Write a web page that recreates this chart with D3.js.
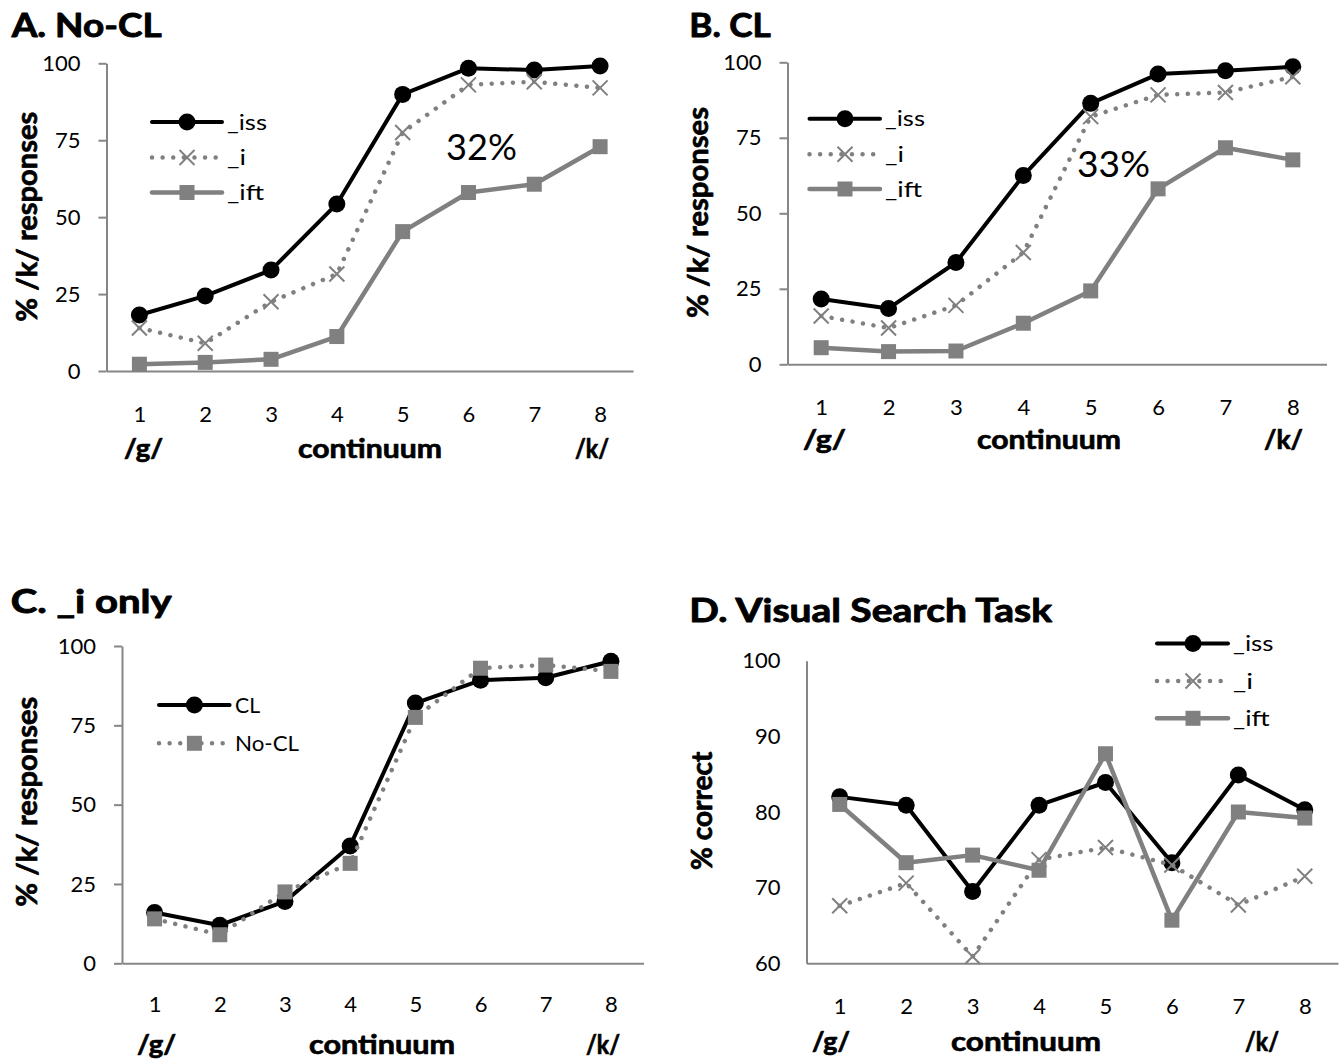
<!DOCTYPE html>
<html>
<head>
<meta charset="utf-8">
<script src="https://cdn.jsdelivr.net/npm/d3@7"></script>
<style>
  html, body { margin: 0; padding: 0; background: #fff; }
  svg { display: block; }
</style>
</head>
<body>
<svg id="chart" width="1344" height="1063"></svg>
<script>
// Steps along the /g/ – /k/ continuum
const steps = ["1", "2", "3", "4", "5", "6", "7", "8"];
const pctTicks = [0, 25, 50, 75, 100];
const correctTicks = [60, 70, 80, 90, 100];

// A. No-CL: % /k/ responses
const noCL_iss = [18.2, 24.4, 32.8, 54.3, 89.9, 98.4, 97.8, 99.1];
const noCL_i   = [14.0, 9.0, 22.5, 31.5, 77.5, 93.0, 94.0, 92.0];
const noCL_ift = [2.2, 2.8, 3.8, 11.2, 45.3, 58.0, 60.7, 72.9];

// B. CL: % /k/ responses
const cl_iss = [21.6, 18.5, 33.7, 62.5, 86.4, 96.1, 97.2, 98.5];
const cl_i   = [16.0, 12.0, 19.5, 37.0, 82.0, 89.2, 90.0, 95.2];
const cl_ift = [5.5, 4.2, 4.4, 13.6, 24.3, 58.1, 71.7, 67.7];

// C. _i only: the _i condition with and without CL
const iOnly_CL   = cl_i;
const iOnly_NoCL = noCL_i;

// D. Visual search task: % correct
const vs_iss = [82.0, 80.9, 69.5, 80.9, 83.9, 73.3, 84.9, 80.3];
const vs_i   = [67.6, 70.6, 60.9, 73.7, 75.3, 73.0, 67.7, 71.5];
const vs_ift = [81.0, 73.3, 74.3, 72.3, 87.7, 65.7, 80.0, 79.2];

const BLACK = "#000000", GRAY = "#808080", AXIS = "#868686";
const FONT = "Lato, 'Open Sans', sans-serif";

const STYLE = {
  blackCircle: { color: BLACK, width: 4,   dash: null,         marker: "circle" },
  dottedCross: { color: GRAY,  width: 4.5, dash: "0.01 10.6",  marker: "cross" },
  graySquare:  { color: GRAY,  width: 4.5, dash: null,         marker: "square" },
  dottedSquare:{ color: GRAY,  width: 4.5, dash: "0.01 10.6",  marker: "square" }
};

const panels = [
  {
    title: "A. No-CL", titleX: 11.7, titleY: 36.7, titleLen: 150,
    left: 106.5, right: 633, top: 63.3, bottom: 371,
    domain: [0, 100], ticks: pctTicks, tickSize: 8, tickPad: 18,
    yTitle: "% /k/ responses", yTitleX: 37, yTitleY: 216.7, yTitleLen: 210,
    xLabelOffset: 50.5, bottomY: 458,
    gX: 124, gLen: 39, contX: 298, contLen: 144, kX: 575, kLen: 34,
    series: [
      { name: "_iss", len: 40, values: noCL_iss, style: STYLE.blackCircle },
      { name: "_i",   len: 19, values: noCL_i,   style: STYLE.dottedCross },
      { name: "_ift", len: 37, values: noCL_ift, style: STYLE.graySquare }
    ],
    legend: { x0: 152, x1: 222, mx: 187, tx: 227, ys: [122, 157.5, 192.5] },
    note: { text: "32%", x: 446, y: 160, len: 71 }
  },
  {
    title: "B. CL", titleX: 689.3, titleY: 37.3, titleLen: 81.6,
    left: 787.5, right: 1326.5, top: 62.3, bottom: 364.3,
    domain: [0, 100], ticks: pctTicks, tickSize: 8, tickPad: 18,
    yTitle: "% /k/ responses", yTitleX: 708, yTitleY: 212.5, yTitleLen: 211,
    xLabelOffset: 50.5, bottomY: 449,
    gX: 803, gLen: 43, contX: 977, contLen: 144, kX: 1264, kLen: 39,
    series: [
      { name: "_iss", len: 40, values: cl_iss, style: STYLE.blackCircle },
      { name: "_i",   len: 19, values: cl_i,   style: STYLE.dottedCross },
      { name: "_ift", len: 37, values: cl_ift, style: STYLE.graySquare }
    ],
    legend: { x0: 809.5, x1: 880, mx: 845, tx: 885, ys: [118.7, 154.3, 189] },
    note: { text: "33%", x: 1077, y: 177, len: 73 }
  },
  {
    title: "C. _i only", titleX: 10.7, titleY: 613.3, titleLen: 161,
    left: 122, right: 643.5, top: 646, bottom: 963.3,
    domain: [0, 100], ticks: pctTicks, tickSize: 8, tickPad: 18,
    yTitle: "% /k/ responses", yTitleX: 37, yTitleY: 801.7, yTitleLen: 210,
    xLabelOffset: 49, bottomY: 1054,
    gX: 137, gLen: 39, contX: 309, contLen: 146, kX: 586, kLen: 34,
    series: [
      { name: "CL",    len: 25, values: iOnly_CL,   style: STYLE.blackCircle },
      { name: "No-CL", len: 64, values: iOnly_NoCL, style: STYLE.dottedSquare }
    ],
    legend: { x0: 159, x1: 229.6, mx: 194.4, tx: 235, ys: [705, 743.3] }
  },
  {
    title: "D. Visual Search Task", titleX: 689.3, titleY: 621.7, titleLen: 362.7,
    left: 806.5, right: 1338, top: 660.7, bottom: 963.3,
    domain: [60, 100], ticks: correctTicks, tickSize: 0, tickPad: 26,
    yTitle: "% correct", yTitleX: 712, yTitleY: 810.8, yTitleLen: 118.3,
    xLabelOffset: 50.5, bottomY: 1051,
    gX: 812, gLen: 38, contX: 951, contLen: 150, kX: 1245, kLen: 34,
    series: [
      { name: "_iss", len: 40.5, values: vs_iss, style: STYLE.blackCircle },
      { name: "_i",   len: 20,   values: vs_i,   style: STYLE.dottedCross },
      { name: "_ift", len: 36.7, values: vs_ift, style: STYLE.graySquare }
    ],
    legend: { x0: 1157, x1: 1228, mx: 1193, tx: 1233, ys: [643.5, 681, 718.3] }
  }
];

const svg = d3.select("#chart");

function addText(g, txt, o) {
  const t = g.append("text")
    .attr("x", o.x).attr("y", o.y)
    .attr("font-family", FONT)
    .attr("font-size", o.size)
    .attr("font-weight", o.weight || "normal")
    .attr("fill", "#000")
    .attr("text-anchor", o.anchor || "start")
    .text(txt);
  if (o.heavy) t.attr("stroke", "#000").attr("stroke-width", o.heavy).attr("stroke-linejoin", "round");
  if (o.len) t.attr("textLength", o.len).attr("lengthAdjust", "spacingAndGlyphs");
  if (o.rotate) t.attr("transform", `rotate(${o.rotate},${o.x},${o.y})`);
  return t;
}

function drawMarker(g, type, cx, cy, color) {
  if (type === "circle") {
    g.append("circle").attr("cx", cx).attr("cy", cy).attr("r", 8.5).attr("fill", color);
  } else if (type === "square") {
    const s = 15;
    g.append("rect").attr("x", cx - s / 2).attr("y", cy - s / 2)
      .attr("width", s).attr("height", s).attr("fill", color);
  } else if (type === "cross") {
    const h = 7.5;
    g.append("path")
      .attr("d", `M${cx - h},${cy - h}L${cx + h},${cy + h}M${cx - h},${cy + h}L${cx + h},${cy - h}`)
      .attr("stroke", color).attr("stroke-width", 2).attr("fill", "none");
  }
}

function styleLine(sel, st) {
  sel.attr("fill", "none")
    .attr("stroke", st.color)
    .attr("stroke-width", st.width)
    .attr("stroke-linejoin", "round")
    .attr("stroke-linecap", "round");
  if (st.dash) sel.attr("stroke-dasharray", st.dash);
}

panels.forEach(p => {
  const g = svg.append("g");

  const x = d3.scalePoint().domain(steps).range([p.left, p.right]).padding(0.5);
  const y = d3.scaleLinear().domain(p.domain).range([p.bottom, p.top]);

  // value axis
  const yAxis = d3.axisLeft(y).tickValues(p.ticks)
    .tickSize(p.tickSize).tickSizeOuter(0).tickPadding(p.tickPad);
  const ya = g.append("g").attr("transform", `translate(${p.left},0)`).call(yAxis);
  ya.select(".domain").attr("stroke", AXIS).attr("stroke-width", 2);
  ya.selectAll(".tick line").attr("stroke", AXIS).attr("stroke-width", 2);
  ya.selectAll(".tick text").attr("font-family", FONT).attr("font-size", 22).attr("fill", "#000");

  // category axis
  const xAxis = d3.axisBottom(x).tickSize(0).tickSizeOuter(0);
  const xa = g.append("g").attr("transform", `translate(0,${p.bottom})`).call(xAxis);
  xa.select(".domain").attr("stroke", AXIS).attr("stroke-width", 2);
  xa.selectAll(".tick text")
    .attr("font-family", FONT).attr("font-size", 22).attr("fill", "#000")
    .attr("y", p.xLabelOffset).attr("dy", null);

  // series: line first, then its markers
  const line = d3.line().x((d, i) => x(steps[i])).y(d => y(d));
  p.series.forEach(s => {
    styleLine(g.append("path").datum(s.values).attr("d", line), s.style);
    s.values.forEach((v, i) => drawMarker(g, s.style.marker, x(steps[i]), y(v), s.style.color));
  });

  // legend
  p.series.forEach((s, i) => {
    const ly = p.legend.ys[i];
    styleLine(g.append("path").attr("d", `M${p.legend.x0},${ly}L${p.legend.x1},${ly}`), s.style);
    drawMarker(g, s.style.marker, p.legend.mx, ly, s.style.color);
    addText(g, s.name, { x: p.legend.tx, y: ly + 7.5, size: 21.5, len: s.len });
  });

  // titles and labels
  addText(g, p.title, { x: p.titleX, y: p.titleY, size: 33, weight: "bold", len: p.titleLen, heavy: 0.9 });
  addText(g, p.yTitle, { x: p.yTitleX, y: p.yTitleY, size: 28, weight: "bold",
    anchor: "middle", rotate: -90, len: p.yTitleLen, heavy: 0.7 });
  addText(g, "/g/", { x: p.gX, y: p.bottomY, size: 27, weight: "bold", len: p.gLen, heavy: 0.7 });
  addText(g, "continuum", { x: p.contX, y: p.bottomY, size: 27, weight: "bold", len: p.contLen, heavy: 0.7 });
  addText(g, "/k/", { x: p.kX, y: p.bottomY, size: 27, weight: "bold", len: p.kLen, heavy: 0.7 });

  if (p.note) {
    addText(g, p.note.text, { x: p.note.x, y: p.note.y, size: 36, len: p.note.len });
  }
});
</script>
</body>
</html>
